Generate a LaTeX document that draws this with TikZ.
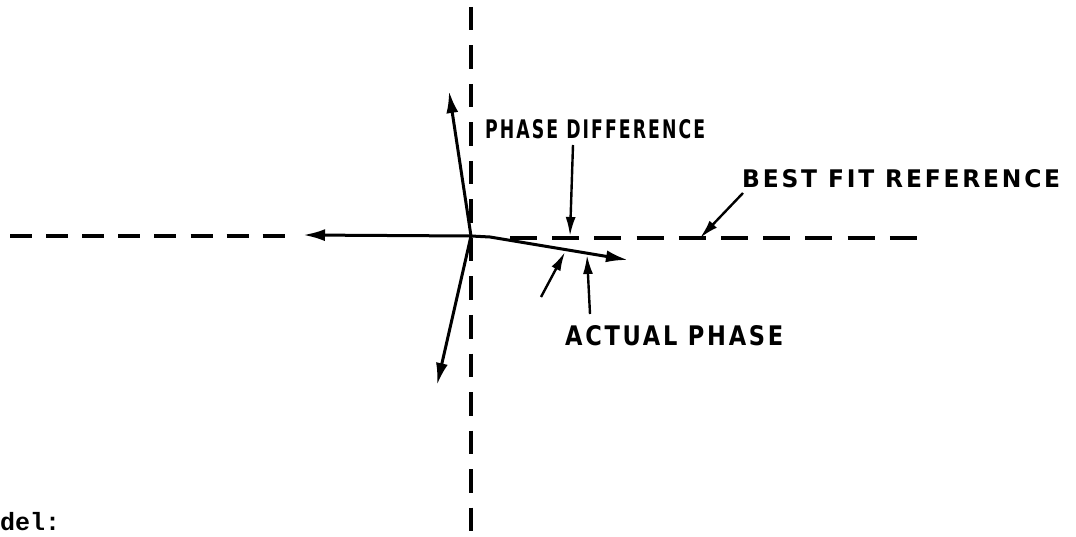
\documentclass[tikz,border=0pt]{standalone}
\usepackage{fontspec}
\setmainfont{Liberation Sans}
\newfontfamily\plotfont[LetterSpace=12]{DejaVu Sans}
\newfontfamily\monofont{Liberation Mono}
\usetikzlibrary{arrows.meta}
\tikzset{
  axisv/.style={line width=3.4pt, dash pattern=on 23.5pt off 15pt},
  axisl/.style={line width=3.4pt, dash pattern=on 22pt off 14.1pt},
  axisr/.style={line width=3.4pt, dash pattern=on 27pt off 15.2pt},
  vec/.style={line width=3pt, -{Latex[length=22pt,width=12pt]}},
  lead/.style={line width=2.4pt, -{Latex[length=19pt,width=10pt]}},
  lbl/.style={inner sep=0pt, anchor=south west}
}
\begin{document}
\begin{tikzpicture}[x=1pt,y=-1pt]
\useasboundingbox (0,0) rectangle (1076,537);
% axes
\coordinate (o) at (471,236);
\coordinate (vtop) at (471,7);
\coordinate (vbot) at (471,537);
\coordinate (hl) at (10,236);
\coordinate (hle) at (290,236);
\coordinate (hr) at (510,238);
\coordinate (hre) at (918,238);
\draw[axisv] (vtop) -- (vbot);
\draw[axisl] (hl) -- (hle);
\draw[axisr] (hr) -- (hre);
% vectors
\coordinate (tl) at (303,235);
\coordinate (tu) at (449,91);
\coordinate (td) at (437,385);
\coordinate (tr) at (628,260);
\draw[vec] (o) -- (tl);
\draw[vec] (o) -- (tu);
\draw[vec] (o) -- (td);
\draw[vec] (o) -- (490,237) -- (tr);
% labels
\node[lbl] (pd) at (485,139) {\resizebox{220pt}{19pt}{\plotfont\bfseries PHASE DIFFERENCE}};
\node[lbl] (bf) at (742,188) {\resizebox{318pt}{18pt}{\plotfont\bfseries BEST FIT REFERENCE}};
\node[lbl] (ap) at (565,346) {\resizebox{218pt}{20pt}{\plotfont\bfseries ACTUAL PHASE}};
\node[inner sep=0pt, anchor=base west] (md) at (0,530) {\monofont\bfseries\fontsize{25pt}{25pt}\selectfont del:};
% leaders
\coordinate (pdt) at (573,145);
\coordinate (pdh) at (570,236);
\coordinate (bft) at (743,193);
\coordinate (bfh) at (700,238);
\coordinate (a1t) at (541,297);
\coordinate (a1h) at (565,252);
\coordinate (a2t) at (590,314);
\coordinate (a2h) at (587,255);
\draw[lead] (pdt) -- (pdh);
\draw[lead] (bft) -- (bfh);
\draw[lead] (a1t) -- (a1h);
\draw[lead] (a2t) -- (a2h);
\end{tikzpicture}
\end{document}
